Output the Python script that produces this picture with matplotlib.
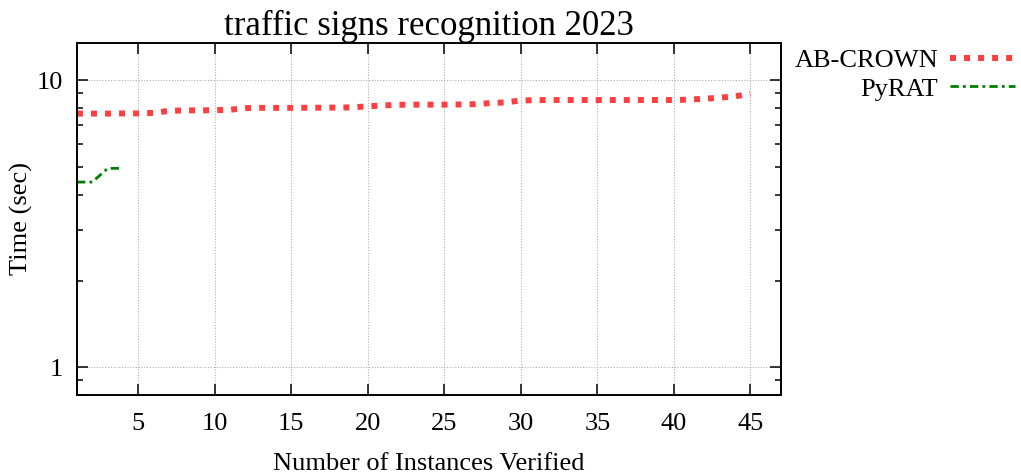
import numpy as np
import matplotlib
matplotlib.use("Agg")
import matplotlib.pyplot as plt
from matplotlib.ticker import LogLocator, FixedLocator, NullFormatter, FuncFormatter

plt.rcParams["font.family"] = ["Liberation Serif", "DejaVu Serif"]

# instances verified vs time (sec)
crown_x = np.arange(1, 46)
crown_t = [7.66, 7.66, 7.66, 7.67, 7.67, 7.70, 7.83, 7.86, 7.86, 7.87,
           7.90, 8.00, 8.02, 8.02, 8.02, 8.03, 8.03, 8.04, 8.05, 8.12,
           8.18, 8.22, 8.23, 8.23, 8.23, 8.24, 8.26, 8.33, 8.38, 8.51,
           8.53, 8.54, 8.54, 8.54, 8.54, 8.54, 8.54, 8.54, 8.54, 8.54,
           8.57, 8.63, 8.70, 8.80, 8.97]
pyrat_x = [1, 2, 3, 4]
pyrat_t = [4.42, 4.42, 4.93, 4.94]

x_ticks = [5, 10, 15, 20, 25, 30, 35, 40, 45]

fig = plt.figure(figsize=(10.21, 4.74), dpi=100)
ax = fig.add_axes([0.0754, 0.1667, 0.6895, 0.7426])

ax.plot(crown_x, crown_t, color="#ff3f3f", lw=4.3,
        linestyle=(0, (1, 1.35)), label="AB-CROWN")
ax.plot(pyrat_x, pyrat_t, color="#008000", lw=2.0,
        linestyle=(0, (3, 1.5, 1, 1.5)), label="PyRAT")

ax.set_yscale("log")
ax.set_xlim(1, 47)
ax.set_ylim(0.8, 13.5)
ax.xaxis.set_major_locator(FixedLocator(x_ticks))
ax.yaxis.set_major_locator(FixedLocator([1, 10]))
ax.yaxis.set_major_formatter(FuncFormatter(lambda v, p: "%g" % v))
ax.yaxis.set_minor_locator(LogLocator(base=10, subs=np.arange(2, 10)))
ax.yaxis.set_minor_formatter(NullFormatter())

ax.grid(True, which="major", color="#b0b0b0", lw=0.8, linestyle=(0, (1, 1.5)))
ax.tick_params(which="both", direction="in", top=True, right=True,
               labelsize=19, width=1.1)
ax.tick_params(which="major", length=8)
ax.tick_params(axis="x", pad=13)
ax.tick_params(axis="y", pad=10)
ax.tick_params(which="minor", length=4.5)
for s in ax.spines.values():
    s.set_linewidth(1.4)

ax.set_title("traffic signs recognition 2023", fontsize=25, pad=5)
ax.set_xlabel("Number of Instances Verified", fontsize=19, labelpad=13)
ax.set_ylabel("Time (sec)", fontsize=19, labelpad=3)

fig.legend(loc="upper right", bbox_to_anchor=(0.994, 0.898), frameon=False,
           markerfirst=False, fontsize=19, handlelength=2.45,
           handletextpad=0.45, labelspacing=0.2, borderpad=0,
           borderaxespad=0)

fig.savefig("out.png", dpi=100)
